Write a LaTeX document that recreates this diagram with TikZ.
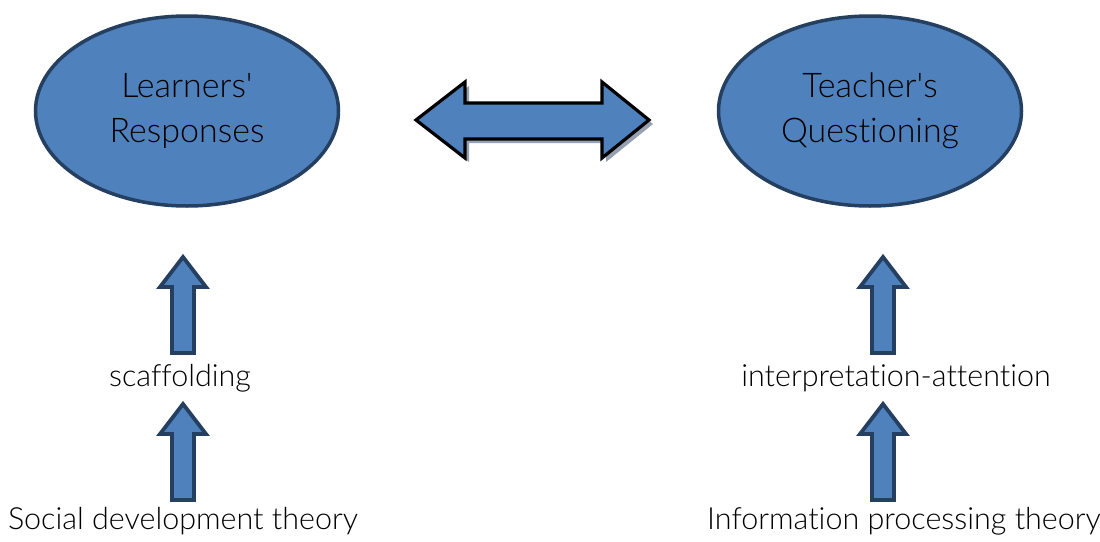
\documentclass[tikz,border=0pt]{standalone}
\usepackage{fontspec}
\setmainfont{Lato Light}[Ligatures={NoCommon}]
\newfontfamily\plainq{Lato Light}
\usetikzlibrary{shapes.geometric}
\definecolor{fillblue}{HTML}{4F81BD}
\definecolor{edgeblue}{HTML}{243F60}
\definecolor{shadowgray}{HTML}{95A0B0}
\newcommand{\sq}{{\plainq '}}
\tikzset{
  oval/.style={ellipse, draw=edgeblue, line width=3.5pt, fill=fillblue,
    minimum width=303pt, minimum height=190pt, inner sep=0pt, align=center,
    font=\fontsize{34pt}{45pt}\selectfont},
  label/.style={inner sep=0pt, font=\fontsize{30.5pt}{36pt}\selectfont},
  blockup/.style={draw=edgeblue, line width=3.8pt, fill=fillblue, line join=miter},
  pics/uparrow/.style={code={
    \draw[blockup] (0,0) -- (23,30) -- (11,30) -- (11,#1) -- (-11,#1) -- (-11,30) -- (-23,30) -- cycle;
  }}
}
\begin{document}
\begin{tikzpicture}[x=1pt,y=-1pt]
\useasboundingbox (0,0) rectangle (1100,541);
% ellipses
\node[oval] (lr) at (187,111) {Learners\sq\\Responses};
\node[oval] (tq) at (870,111) {Teacher\sq s\\Questioning};
% double arrow with shadow
\fill[shadowgray] (420,124) -- ++(49,-38) -- ++(0,21) -- ++(137,0) -- ++(0,-21) -- ++(47,38) -- ++(-47,38) -- ++(0,-19) -- ++(-137,0) -- ++(0,19) -- cycle;
\draw[fill=fillblue, draw=black, line width=3.2pt, line join=miter]
  (416,120) -- (465,82) -- (465,103) -- (602,103) -- (602,82) -- (649,120)
  -- (602,158) -- (602,139) -- (465,139) -- (465,158) -- cycle;
% labels
\node[label] (sc) at (180,378) {scaffolding};
\node[label] (sd) at (183,521) {Social development theory};
\node[label] (ia) at (896,378) {interpretation-attention};
\node[label] (ip) at (904,521) {Information processing theory};
% up arrows
\pic at (183,257) {uparrow=96};
\pic at (183,404) {uparrow=96};
\pic at (883,257) {uparrow=96};
\pic at (883,404) {uparrow=96};
\end{tikzpicture}
\end{document}
